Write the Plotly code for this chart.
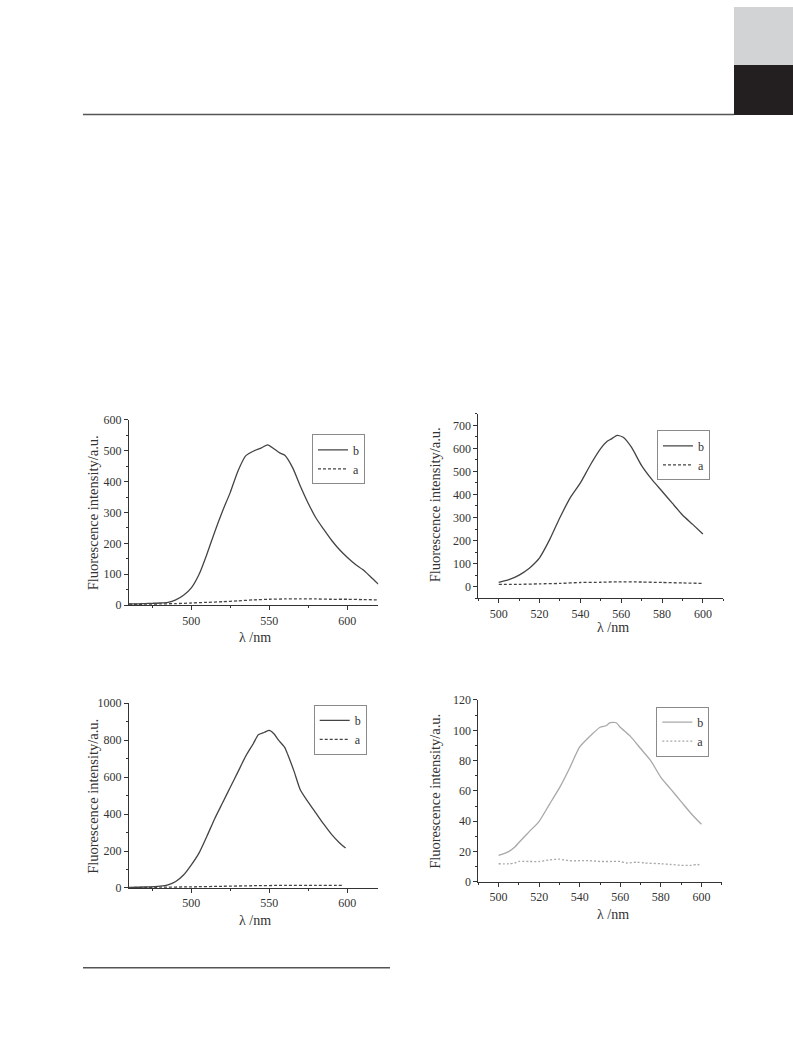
import plotly.graph_objects as go

W, H = 793, 1057

# ---------------- data ----------------
p1_x_b = [460, 465, 470, 475, 480, 485, 490, 495, 500, 505, 510, 515, 520, 525, 530, 535, 540, 545, 549,
          553, 557, 560, 565, 570, 575, 580, 585, 590, 595, 600, 605, 610, 615, 620]
p1_y_b = [4, 4, 5, 6, 7, 9, 17, 32, 56, 100, 165, 237, 304, 365, 435, 484, 499, 509, 519,
          506, 492, 485, 445, 385, 330, 282, 245, 210, 180, 155, 133, 115, 92, 68]
p1_x_a = [460, 470, 480, 490, 500, 510, 520, 530, 540, 550, 560, 570, 580, 590, 600, 610, 620]
p1_y_a = [3, 3, 4, 5, 7, 9, 11, 14, 17, 19, 20, 20, 20, 19, 19, 18, 17]

p2_x_b = [500, 505, 510, 515, 518, 520, 525, 530, 535, 540, 545, 550, 553, 555, 558, 561, 565, 570,
          575, 580, 585, 590, 595, 600]
p2_y_b = [18, 30, 50, 80, 105, 125, 205, 300, 385, 450, 530, 600, 630, 640, 656, 648, 605, 525,
          465, 414, 362, 311, 270, 228]
p2_x_a = [500, 510, 520, 530, 540, 550, 558, 570, 580, 590, 600]
p2_y_a = [10, 10, 12, 14, 18, 19, 21, 20, 18, 16, 14]

p3_x_b = [460, 470, 480, 485, 490, 495, 500, 505, 510, 515, 520, 525, 530, 535, 540, 543, 547, 550,
          553, 556, 560, 562, 566, 570, 575, 580, 585, 590, 595, 599]
p3_y_b = [3, 5, 10, 17, 35, 70, 125, 190, 280, 375, 460, 545, 630, 715, 785, 830, 843, 853,
          835, 800, 760, 720, 630, 530, 465, 405, 345, 290, 245, 216]
p3_x_a = [460, 480, 500, 520, 540, 560, 580, 598]
p3_y_a = [2, 4, 6, 9, 12, 14, 14, 14]

p4_x_b = [500, 505, 508, 510, 515, 520, 525, 530, 535, 540, 545, 550, 553, 555, 558, 560, 565, 570,
          575, 580, 585, 590, 595, 600]
p4_y_b = [17.5, 20, 23, 26, 33, 40, 51, 62, 75, 89, 96, 102, 103, 105, 105, 102, 96, 88,
          80, 69, 61, 53, 45, 38]
p4_x_a = [500, 505, 508, 510, 515, 520, 525, 530, 535, 540, 545, 550, 555, 560, 563, 568, 572, 580,
          585, 590, 595, 598, 600]
p4_y_a = [12, 12, 12.5, 13.5, 13.5, 13.5, 14.5, 15, 14, 14, 14, 13.5, 13.5, 13.5, 12.5, 13, 12.5, 12,
          11.5, 11, 11, 11.5, 11]

series_names = ["b", "a"]
x_title = "λ /nm"
y_title = "Fluorescence intensity/a.u."

# ---------------- layout helpers ----------------
FONT = "Liberation Serif, Times New Roman, serif"
AX = "#333333"
# the captured page came out ~1.15% shorter and ~6 px lower; compensate
Y_OFF, Y_SCALE = 5.8, 0.9885


def px_x(v):
    return v / W


def px_y(v):
    return 1 - ((v - Y_OFF) / Y_SCALE) / H


panels = [
    dict(box=(129, 378.3, 419.3, 605), xr=[460, 620], yr=[0, 600], xd=50, yd=100,
         data=((p1_x_b, p1_y_b), (p1_x_a, p1_y_a)), color="#444444", dash="3px,2px",
         leg=(365, 434), xt=(255, 637), yt=(93, 513)),
    dict(box=(478.3, 723.3, 413.3, 598), xr=[490, 610], yr=[-50, 750], xd=20, yd=100,
         data=((p2_x_b, p2_y_b), (p2_x_a, p2_y_a)), color="#444444", dash="3px,2px",
         leg=(710, 430), xt=(613, 627), yt=(435, 505)),
    dict(box=(129, 378.3, 703.3, 888.3), xr=[460, 620], yr=[0, 1000], xd=50, yd=200,
         data=((p3_x_b, p3_y_b), (p3_x_a, p3_y_a)), color="#444444", dash="3px,2px",
         leg=(366.7, 705), xt=(255, 921), yt=(93, 797)),
    dict(box=(478.3, 721.7, 700, 882.3), xr=[490, 610], yr=[0, 120], xd=20, yd=20,
         data=((p4_x_b, p4_y_b), (p4_x_a, p4_y_a)), color="#a8a8a8", dash="2px,2px",
         leg=(709.3, 706.7), xt=(613, 915), yt=(435, 792)),
]

fig = go.Figure()
layout = dict(width=W, height=H, margin=dict(l=0, r=0, t=0, b=0),
              paper_bgcolor="white", plot_bgcolor="white",
              font=dict(family=FONT, color=AX), showlegend=True)
annotations = []

for i, p in enumerate(panels):
    k = "" if i == 0 else str(i + 1)
    xa, ya = "x" + k, "y" + k
    lg = "legend" + k
    x0, x1, yt_, yb_ = p["box"]
    for j, (xs, ys) in enumerate(p["data"]):
        fig.add_trace(go.Scatter(
            x=xs, y=ys, mode="lines", name=series_names[j], xaxis=xa, yaxis=ya, legend=lg,
            line=dict(color=p["color"], width=1.3, dash="solid" if j == 0 else p["dash"],
                      shape="spline", smoothing=0.6),
        ))
    common = dict(showline=True, linecolor=AX, linewidth=1, ticks="outside", ticklen=4,
                  tickwidth=1, tickcolor=AX, showgrid=False, zeroline=False,
                  tickfont=dict(family=FONT, size=12, color=AX))
    layout["xaxis" + k] = dict(domain=[px_x(x0), px_x(x1)], range=p["xr"], anchor=ya,
                               dtick=p["xd"], tick0=0,
                               minor=dict(ticks="outside", ticklen=2, dtick=p["xd"] / 2,
                                          tickcolor=AX, showgrid=False),
                               **common)
    layout["yaxis" + k] = dict(domain=[px_y(yb_), px_y(yt_)], range=p["yr"], anchor=xa,
                               dtick=p["yd"], tick0=0,
                               minor=dict(ticks="outside", ticklen=2, dtick=p["yd"] / 2,
                                          tickcolor=AX, showgrid=False),
                               **common)
    lr, lt = p["leg"]
    layout[lg] = dict(x=px_x(lr), y=px_y(lt), xanchor="right", yanchor="top",
                      bordercolor="#8a8a8a", borderwidth=1, bgcolor="white",
                      font=dict(family=FONT, size=12, color=AX), itemwidth=30,
                      tracegroupgap=0)
    annotations.append(dict(text=x_title, x=px_x(p["xt"][0]), y=px_y(p["xt"][1]),
                            xref="paper", yref="paper", showarrow=False,
                            xanchor="center", yanchor="middle",
                            font=dict(family=FONT, size=14, color=AX)))
    annotations.append(dict(text=y_title, x=px_x(p["yt"][0]), y=px_y(p["yt"][1]),
                            xref="paper", yref="paper", showarrow=False, textangle=-90,
                            xanchor="center", yanchor="middle",
                            font=dict(family=FONT, size=14.5, color=AX)))

shapes = [
    dict(type="rect", xref="paper", yref="paper", x0=px_x(734), x1=1, y0=px_y(64), y1=1,
         fillcolor="#d1d3d4", line=dict(width=0), layer="below"),
    dict(type="rect", xref="paper", yref="paper", x0=px_x(734), x1=1, y0=px_y(114), y1=px_y(64),
         fillcolor="#231f20", line=dict(width=0), layer="below"),
    dict(type="line", xref="paper", yref="paper", x0=px_x(83), x1=px_x(734), y0=px_y(113.5),
         y1=px_y(113.5), line=dict(color="#555555", width=1.5)),
    dict(type="line", xref="paper", yref="paper", x0=px_x(83), x1=px_x(390), y0=px_y(968.3),
         y1=px_y(968.3), line=dict(color="#555555", width=1.5)),
]
layout["annotations"] = annotations
layout["shapes"] = shapes
fig.update_layout(**layout)

post = (
    "document.body.style.margin='0';"
    "document.body.style.overflow='hidden';"
    "document.body.style.background="
    "'linear-gradient(to right, #ffffff 734px, #d1d3d4 734px) no-repeat 0 0 / 100% 20px, #ffffff';"
)
fig.write_html("out.html", config={"displayModeBar": False}, post_script=post)
